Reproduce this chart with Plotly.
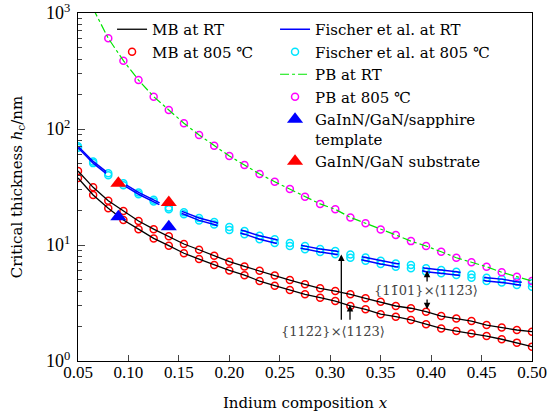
import math
import plotly.graph_objects as go

# ---------------- data ----------------
x_comp = [0.05, 0.065, 0.08, 0.095, 0.11, 0.125, 0.14, 0.155, 0.17, 0.185, 0.20,
          0.215, 0.23, 0.245, 0.26, 0.275, 0.29, 0.305, 0.32, 0.335, 0.35,
          0.365, 0.38, 0.395, 0.41, 0.425, 0.44, 0.455, 0.47, 0.485, 0.50]

mb_upper = [43.4, 31.4, 24.1, 19.6, 16.1, 13.7, 11.9, 10.2, 9.1, 8.07, 7.18,
            6.53, 6.0, 5.46, 4.99, 4.58, 4.23, 4.01, 3.76, 3.47, 3.24,
            2.98, 2.85, 2.66, 2.44, 2.33, 2.21, 2.04, 1.94, 1.85, 1.79]
mb_lower = [37.8, 27.0, 20.7, 16.4, 13.7, 11.4, 9.86, 8.49, 7.57, 6.72, 6.03,
            5.49, 4.89, 4.46, 4.09, 3.76, 3.51, 3.29, 2.98, 2.79, 2.53,
            2.41, 2.26, 2.07, 1.91, 1.81, 1.73, 1.64, 1.54, 1.44, 1.33]

fischer_upper = [71.0, 52.5, 41.5, 34.0, 28.4, 24.5, 21.1, 19.2, 17.1, 15.8, 14.3,
                 13.2, 12.0, 11.2, 10.4, 9.78, 9.25, 8.86, 8.30, 7.81, 7.33,
                 6.94, 6.71, 6.29, 6.08, 5.88, 5.57, 5.22, 5.08, 4.83, 4.67]
fischer_lower = [69.0, 50.8, 40.0, 32.8, 27.4, 23.7, 20.3, 18.4, 16.3, 15.0, 13.5,
                 12.4, 11.2, 10.4, 9.80, 9.18, 8.69, 8.32, 7.78, 7.33, 6.87,
                 6.50, 6.29, 5.89, 5.70, 5.52, 5.23, 4.90, 4.76, 4.53, 4.37]

pb_x = [0.05, 0.065, 0.08, 0.095, 0.11, 0.125, 0.14, 0.155, 0.17, 0.185, 0.20,
        0.215, 0.23, 0.245, 0.26, 0.275, 0.29, 0.305, 0.32, 0.335, 0.35,
        0.365, 0.38, 0.395, 0.41, 0.425, 0.44, 0.455, 0.47, 0.485, 0.50]
pb_vals = [2100, 1090, 605, 388, 264, 190, 146, 112, 88.8, 71.8, 58.5,
           48.9, 40.9, 35.1, 30.4, 26.1, 22.6, 20.3, 17.3, 15.4, 13.6,
           12.2, 10.8, 9.8, 8.75, 7.77, 7.10, 6.50, 5.82, 5.33, 4.89]

exp_x = [0.09, 0.14]
template_vals = [17.5, 14.4]
substrate_vals = [34.0, 23.2]

x_ticks = [0.05, 0.10, 0.15, 0.20, 0.25, 0.30, 0.35, 0.40, 0.45, 0.50]
x_ticktext = ["0.05", "0.10", "0.15", "0.20", "0.25", "0.30", "0.35", "0.40", "0.45", "0.50"]
y_ticks = [1, 10, 100, 1000]
y_ticktext = ["10<sup>0</sup>", "10<sup>1</sup>", "10<sup>2</sup>", "10<sup>3</sup>"]

FONT = "DejaVu Serif"
TICKFONT = "Liberation Serif"

fig = go.Figure()

circ = dict(symbol="circle-open", size=7, line=dict(width=1.5))

# circles (drawn below the lines)
fig.add_trace(go.Scatter(x=x_comp, y=mb_upper, mode="markers", name="MB at 805 ℃",
                         marker=dict(color="#ff0000", **circ), legend="legend", legendrank=2))
fig.add_trace(go.Scatter(x=x_comp, y=mb_lower, mode="markers", showlegend=False,
                         marker=dict(color="#ff0000", **circ), legend="legend"))
fig.add_trace(go.Scatter(x=x_comp, y=fischer_upper, mode="markers", name="Fischer et al. at 805 ℃",
                         marker=dict(color="#00e5ff", **circ), legend="legend2", legendrank=2))
fig.add_trace(go.Scatter(x=x_comp, y=fischer_lower, mode="markers", showlegend=False,
                         marker=dict(color="#00e5ff", **circ), legend="legend2"))
fig.add_trace(go.Scatter(x=pb_x, y=pb_vals, mode="markers", name="PB at 805 ℃",
                         marker=dict(color="#ff00ff", **circ), legend="legend2", legendrank=4))

# MB lines
fig.add_trace(go.Scatter(x=x_comp, y=mb_upper, mode="lines", name="MB at RT",
                         line=dict(color="black", width=1.3), legend="legend", legendrank=1))
fig.add_trace(go.Scatter(x=x_comp, y=mb_lower, mode="lines", showlegend=False,
                         line=dict(color="black", width=1.3), legend="legend"))

# Fischer lines
fdash = "38px,24px"
fig.add_trace(go.Scatter(x=x_comp, y=fischer_upper, mode="lines", name="Fischer et al. at RT",
                         line=dict(color="#0000ff", width=1.5, dash=fdash), legend="legend2",
                         legendrank=1))
fig.add_trace(go.Scatter(x=x_comp, y=fischer_lower, mode="lines", showlegend=False,
                         line=dict(color="#0000ff", width=1.5, dash=fdash), legend="legend2"))

# PB line
fig.add_trace(go.Scatter(x=pb_x, y=pb_vals, mode="lines", name="PB at RT",
                         line=dict(color="#00e600", width=1.2, dash="dashdot"), legend="legend2",
                         legendrank=3))

# experiments
fig.add_trace(go.Scatter(x=exp_x, y=template_vals, mode="markers",
                         name="GaInN/GaN/sapphire<br>template",
                         marker=dict(color="#0000ff", symbol="triangle-up", size=14),
                         legend="legend2", legendrank=5))
fig.add_trace(go.Scatter(x=exp_x, y=substrate_vals, mode="markers",
                         name="GaInN/GaN substrate",
                         marker=dict(color="#ff0000", symbol="triangle-up", size=14),
                         legend="legend2", legendrank=6))

# annotations with arrows
L = math.log10
arrow_style = dict(showarrow=True, arrowhead=2, arrowsize=1, arrowwidth=1.3,
                   arrowcolor="black", xref="x", yref="y", axref="x", ayref="y", text="")
ann_font = dict(family=FONT, size=13, color="#444444")
ann = [
    dict(x=0.311, y=L(8.3), ax=0.311, ay=L(2.2), **arrow_style),
    dict(x=0.3196, y=L(3.04), ax=0.3196, ay=L(2.2), **arrow_style),
    dict(x=0.396, y=L(6.0), ax=0.396, ay=L(4.7), **arrow_style),
    dict(x=0.396, y=L(2.79), ax=0.396, ay=L(3.5), **arrow_style),
    dict(x=0.3027, y=L(1.78), text="{112\u03042}\u00d7\u27e8112\u03043\u27e9", showarrow=False,
         xref="x", yref="y", font=ann_font),
    dict(x=0.395, y=L(4.09), text="{11\u030401}\u00d7\u27e8112\u03043\u27e9", showarrow=False,
         xref="x", yref="y", font=ann_font),
]

minor_vals = [m * 10 ** e for e in range(0, 3) for m in range(2, 10)]

fig.update_layout(
    width=553, height=414,
    margin=dict(l=78, r=21, t=13, b=53),
    paper_bgcolor="white", plot_bgcolor="white",
    font=dict(family=FONT, size=15, color="black"),
    annotations=ann,
    legend=dict(x=0.075, y=1.0, xanchor="left", yanchor="top", bgcolor="rgba(0,0,0,0)",
                font=dict(family=FONT, size=15), tracegroupgap=0, itemwidth=30),
    legend2=dict(x=0.434, y=1.0, xanchor="left", yanchor="top", bgcolor="rgba(0,0,0,0)",
                 font=dict(family=FONT, size=15), tracegroupgap=0, itemwidth=30, valign="top"),
    xaxis=dict(range=[0.05, 0.50], tickvals=x_ticks, ticktext=x_ticktext, automargin=False,
               ticks="inside", ticklen=6, tickwidth=1, showgrid=False, zeroline=False,
               showline=True, linecolor="black", linewidth=1.3, mirror=True,
               ticklabelstandoff=-5,
               title=dict(text="Indium composition <i>x</i>", standoff=16,
                          font=dict(family=FONT, size=15)),
               tickfont=dict(family=TICKFONT, size=17)),
    yaxis=dict(type="log", range=[0, 3], tickvals=y_ticks, ticktext=y_ticktext, automargin=False,
               ticks="inside", ticklen=7, tickwidth=1, showgrid=False, zeroline=False,
               showline=True, linecolor="black", linewidth=1.3, mirror=True,
               ticklabelstandoff=3,
               minor=dict(tickvals=minor_vals, ticks="inside", ticklen=4, tickwidth=1,
                          showgrid=False),
               title=dict(text="Critical thickness <i>h</i><sub>c</sub>/nm", standoff=19,
                          font=dict(family=FONT, size=15)),
               tickfont=dict(family=TICKFONT, size=18)),
)

fig.write_html("out.html", config={"displayModeBar": False},
               post_script="document.body.style.margin='0';document.body.style.padding='0';")
